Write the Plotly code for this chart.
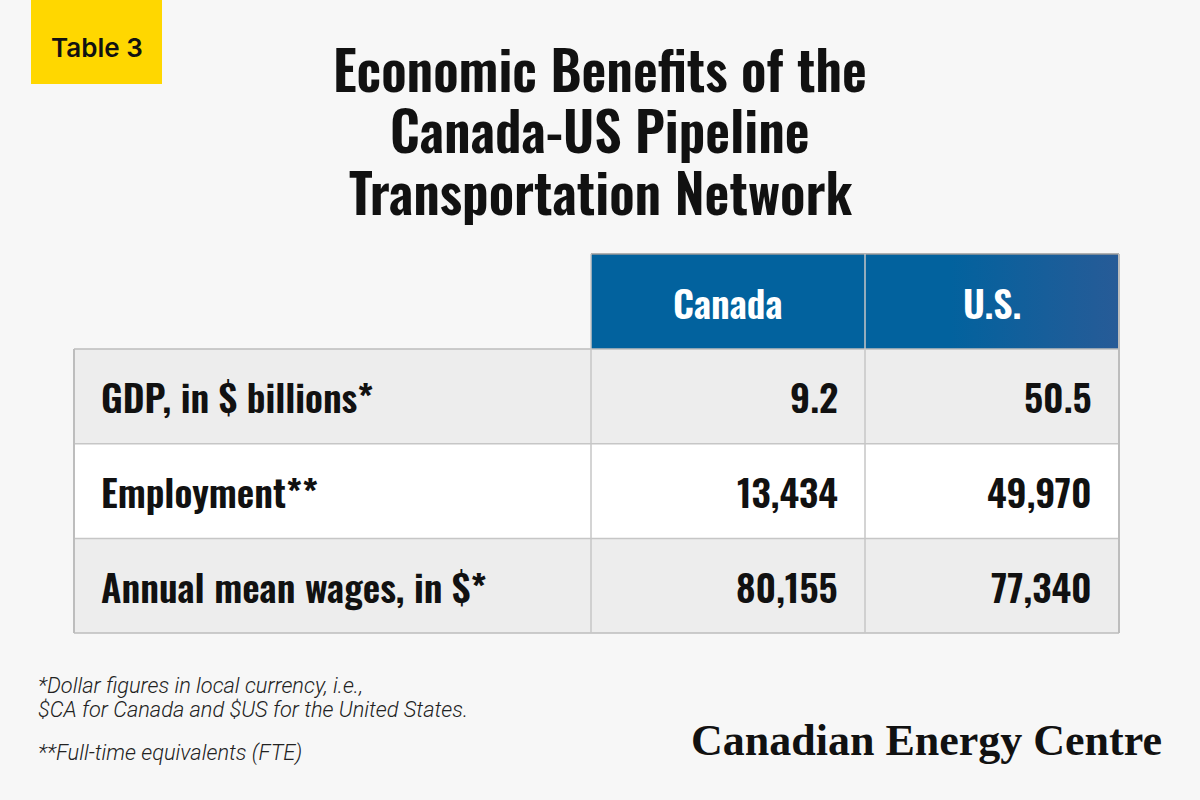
import plotly.graph_objects as go

# ---------------- data ----------------
badge_text = "Table 3"
title_lines = ["Economic Benefits of the", "Canada-US Pipeline", "Transportation Network"]
column_headers = ["Canada", "U.S."]
row_labels = ["GDP, in $ billions*", "Employment**", "Annual mean wages, in $*"]
canada_values = [9.2, 13434, 80155]
us_values = [50.5, 49970, 77340]
value_formats = ["{:.1f}", "{:,d}", "{:,d}"]
footnotes = ["*Dollar figures in local currency, i.e.,",
             "$CA for Canada and $US for the United States.",
             "",
             "**Full-time equivalents (FTE)"]
brand = "Canadian Energy Centre"

# ---------------- layout geometry (pixels) ----------------
W, H = 1200, 800
BG = "#f7f7f7"
table_left = 74
label_right = 591
col_widths = [274, 254]
header_top = 254
header_h = 95
row_h = 94.7
row_fills = ["#ededed", "#ffffff", "#ededed"]
grid = "#c6c6c6"
cond = "Oswald, Roboto Condensed, Open Sans Condensed, sans-serif"

col_edges = [label_right]
for w in col_widths:
    col_edges.append(col_edges[-1] + w)
table_right = col_edges[-1]
body_top = header_top + header_h
row_edges = [body_top + i * row_h for i in range(len(row_labels) + 1)]

fig = go.Figure()

# header with horizontal gradient
fig.add_trace(go.Scatter(
    x=[label_right, table_right, table_right, label_right, label_right],
    y=[header_top, header_top, body_top, body_top, header_top],
    mode="lines", line=dict(width=0), fill="toself",
    fillgradient=dict(type="horizontal",
                      colorscale=[[0, "#02629e"], [0.68, "#02629e"], [1, "#275b97"]]),
    hoverinfo="skip", showlegend=False))

shapes = []
for i, fc in enumerate(row_fills):
    shapes.append(dict(type="rect", xref="x", yref="y", x0=table_left, x1=table_right,
                       y0=row_edges[i], y1=row_edges[i + 1], fillcolor=fc, line=dict(width=0), layer="below"))
for i, y in enumerate(row_edges):
    shapes.append(dict(type="line", xref="x", yref="y", x0=table_left, x1=table_right, y0=y, y1=y,
                       line=dict(color="#bdbdbd" if i in (0, len(row_edges) - 1) else grid, width=1.5)))
shapes.append(dict(type="line", xref="x", yref="y", x0=label_right, x1=table_right, y0=header_top, y1=header_top,
                   line=dict(color="#9a9a9a", width=1.5)))
shapes.append(dict(type="line", xref="x", yref="y", x0=table_left, x1=table_left, y0=body_top, y1=row_edges[-1],
                   line=dict(color="#bdbdbd", width=2)))
for j, x in enumerate(col_edges):
    last = j == len(col_edges) - 1
    shapes.append(dict(type="line", xref="x", yref="y", x0=x, x1=x, y0=header_top, y1=row_edges[-1],
                       line=dict(color="#bdbdbd" if last else grid, width=2 if last else 1.5)))
shapes.append(dict(type="rect", xref="x", yref="y", x0=31, x1=162, y0=0, y1=84,
                   fillcolor="#ffd700", line=dict(width=0)))

ann = []
ann.append(dict(x=97, y=47, text=badge_text, showarrow=False, xanchor="center", yanchor="middle",
                font=dict(family="Inter, sans-serif", size=26, color="#111", weight=600)))
title_y = [68, 129, 191]
for t, y in zip(title_lines, title_y):
    ann.append(dict(x=600, y=y, text=t, showarrow=False, xanchor="center", yanchor="middle",
                    font=dict(family=cond, size=54, color="#111", weight=600)))
for j, h in enumerate(column_headers):
    ann.append(dict(x=(col_edges[j] + col_edges[j + 1]) / 2, y=header_top + header_h / 2, text=h,
                    showarrow=False, xanchor="center", yanchor="middle",
                    font=dict(family=cond, size=38, color="white", weight=600)))
for i, lab in enumerate(row_labels):
    yc = (row_edges[i] + row_edges[i + 1]) / 2
    ann.append(dict(x=table_left + 25, y=yc, text=lab, showarrow=False, xanchor="left", yanchor="middle",
                    font=dict(family=cond, size=38, color="#111", weight=600)))
    for j, vals in enumerate([canada_values, us_values]):
        ann.append(dict(x=col_edges[j + 1] - 25, y=yc, text=value_formats[i].format(vals[i]), showarrow=False,
                        xanchor="right", yanchor="middle",
                        font=dict(family=cond, size=38, color="#111", weight=600)))
foot_y = [685, 709, 731, 753]
for t, y in zip(footnotes, foot_y):
    if t:
        ann.append(dict(x=36, y=y, text=t, showarrow=False, xanchor="left", yanchor="middle",
                        font=dict(family="Roboto, sans-serif", size=21.8, color="#222", style="italic", weight=300)))
ann.append(dict(x=1164, y=740, text=brand, showarrow=False, xanchor="right", yanchor="middle",
                font=dict(family="Liberation Serif, serif", size=44, color="#111", weight="bold")))

fig.update_layout(
    width=W, height=H, margin=dict(l=0, r=0, t=0, b=0),
    paper_bgcolor=BG, plot_bgcolor=BG,
    xaxis=dict(range=[0, W], visible=False, fixedrange=True),
    yaxis=dict(range=[H, 0], visible=False, fixedrange=True),
    shapes=shapes, annotations=ann, showlegend=False)

fig.write_html("out.html", config={"displayModeBar": False},
               post_script="document.body.style.margin='0';")
